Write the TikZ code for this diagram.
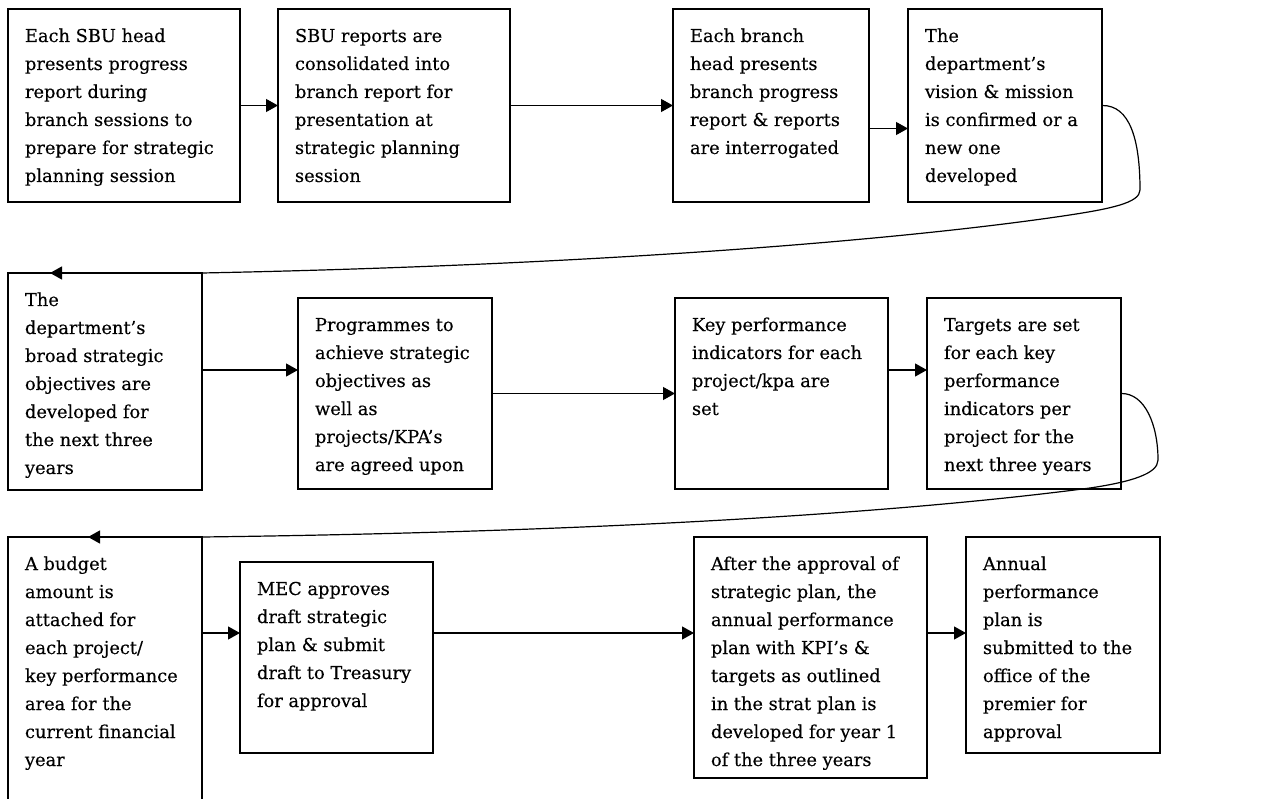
\documentclass[tikz,border=0pt]{standalone}
\usepackage{fontspec}
\setmainfont{DejaVu Serif}[FakeBold=0.3]
\usetikzlibrary{arrows.meta}
\newcommand\flowstep[6]{%
  \pgfmathsetmacro\flowW{#4-#2}\pgfmathsetmacro\flowH{#5-#3}%
  \node[flowbox, minimum width=\flowW pt, minimum height=\flowH pt] (#1) at (#2,#3)
    {\parbox[t][\dimexpr\flowH pt-26.8pt\relax][t]{\dimexpr\flowW pt-34pt\relax}{\begin{tabular}[t]{@{}l@{}}#6\end{tabular}}};}
\tikzset{
  flowbox/.style={draw, line width=1.4pt, anchor=north west, inner xsep=17pt, inner ysep=13.4pt,
    outer sep=0pt, font=\fontsize{17.8}{28}\selectfont},
  conn/.style={line width=1.2pt, -{Triangle[length=12pt,width=13pt]}}
}
\begin{document}
\begin{tikzpicture}[x=1pt,y=-1pt]
\useasboundingbox (0,0) rectangle (1287,799);
\clip (0,0) rectangle (1287,799);
\fill[white] (0,0) rectangle (1287,799);
\flowstep{A}{8}{9}{240}{202}{Each SBU head\\presents progress\\report during\\branch sessions to\\prepare for strategic\\planning session}
\flowstep{B}{278}{9}{510}{202}{SBU reports are\\consolidated into\\branch report for\\presentation at\\strategic planning\\session}
\flowstep{C}{673}{9}{869}{202}{Each branch\\head presents\\branch progress\\report \& reports\\are interrogated}
\flowstep{D}{908}{9}{1102}{202}{The\\department’s\\vision \& mission\\is confirmed or a\\new one\\developed}
\flowstep{E}{8}{273}{202}{490}{The\\department’s\\broad strategic\\objectives are\\developed for\\the next three\\years}
\flowstep{F}{298}{298}{492}{489}{Programmes to\\achieve strategic\\objectives as\\well as\\projects/KPA’s\\are agreed upon}
\flowstep{G}{675}{298}{888}{489}{Key performance\\indicators for each\\project/kpa are\\set}
\flowstep{H}{927}{298}{1121}{489}{Targets are set\\for each key\\performance\\indicators per\\project for the\\next three years}
\flowstep{I}{8}{537}{202}{820}{A budget\\amount is\\attached for\\each project/\\key performance\\area for the\\current financial\\year}
\flowstep{J}{240}{562}{433}{753}{MEC approves\\draft strategic\\plan \& submit\\draft to Treasury\\for approval}
\flowstep{K}{694}{537}{927}{778}{After the approval of\\strategic plan, the\\annual performance\\plan with KPI’s \&\\targets as outlined\\in the strat plan is\\developed for year 1\\of the three years}
\flowstep{L}{966}{537}{1160}{753}{Annual\\performance\\plan is\\submitted to the\\office of the\\premier for\\approval}
% row 1
\draw[conn] (A.east) -- (B.west);
\draw[conn] (B.east) -- (C.west);
\draw[conn] ([yshift=-23pt]C.east) -- ([yshift=-23pt]D.west);
\draw[conn] (D.east) .. controls (1130,105) and (1140,140) .. (1140,190)
  .. controls (1140,203) and (1110,209) .. (1063,216)
  .. controls (900,240) and (600,265) .. (E.north east) -- ([xshift=42pt]E.north west);
% row 2
\draw[conn] ([yshift=11.5pt]E.east) -- ([yshift=23.5pt]F.west);
\draw[conn] (F.east) -- (G.west);
\draw[conn] ([yshift=23.5pt]G.east) -- ([yshift=23.5pt]H.west);
\draw[conn] (H.east) .. controls (1145,393) and (1158,425) .. (1158,460)
  .. controls (1158,474) and (1130,482) .. (1090,488)
  .. controls (900,513) and (600,532) .. (I.north east) -- ([xshift=80pt]I.north west);
% row 3
\draw[conn] ([yshift=24.5pt]J.west -| I.east) -- ([yshift=24.5pt]J.west);
\draw[conn] ([yshift=24.5pt]J.east) -- ([yshift=24.5pt]K.west);
\draw[conn] ([yshift=24.5pt]K.east) -- ([yshift=12pt]L.west);
\end{tikzpicture}
\end{document}
